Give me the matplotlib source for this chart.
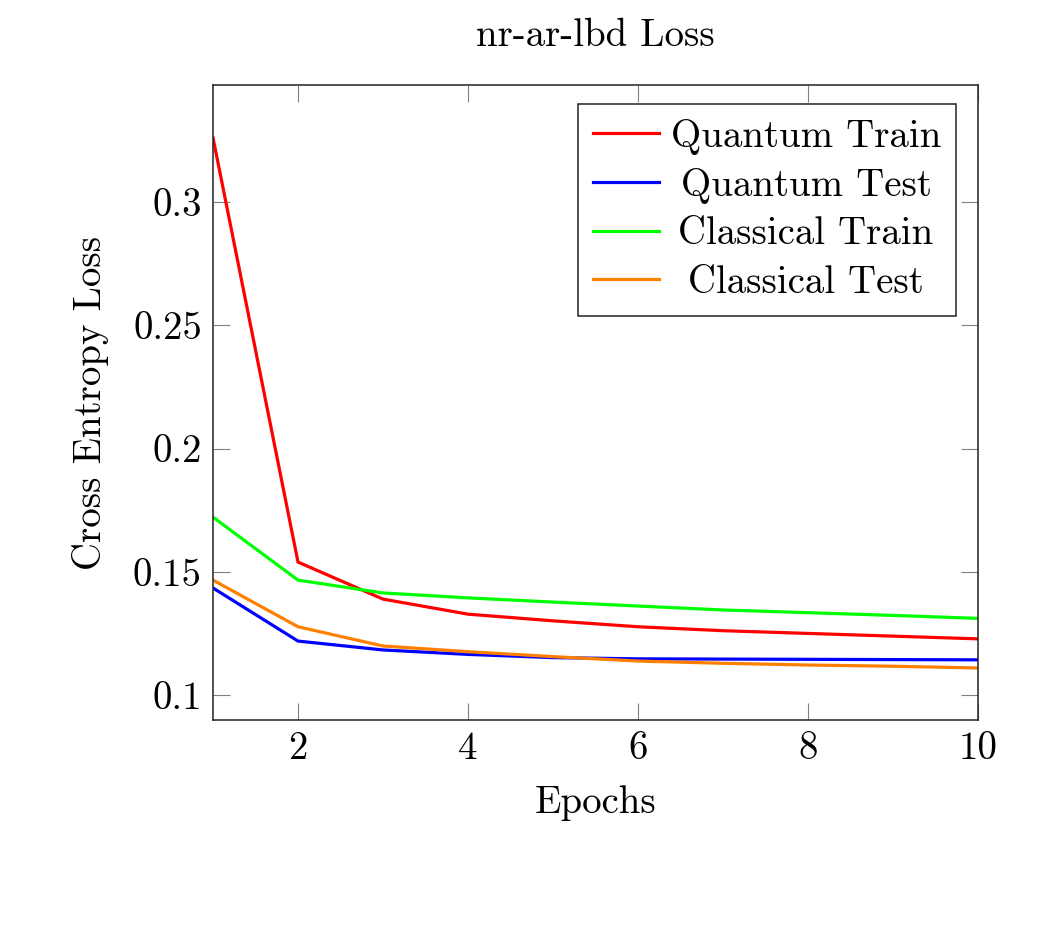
import matplotlib
matplotlib.use("Agg")
import matplotlib.pyplot as plt
from matplotlib.ticker import FixedLocator, FixedFormatter

epochs = [1, 2, 3, 4, 5, 6, 7, 8, 9, 10]
quantum_train = [0.3259, 0.1540, 0.1390, 0.1329, 0.1302, 0.1278, 0.1262, 0.1251, 0.1240, 0.1229]
quantum_test = [0.1435, 0.1220, 0.1184, 0.1166, 0.1153, 0.1148, 0.1147, 0.1146, 0.1145, 0.1144]
classical_train = [0.1722, 0.1467, 0.1415, 0.1395, 0.1378, 0.1362, 0.1346, 0.1335, 0.1324, 0.1312]
classical_test = [0.1467, 0.1278, 0.1200, 0.1177, 0.1157, 0.1139, 0.1130, 0.1123, 0.1118, 0.1111]

series_labels = ["Quantum Train", "Quantum Test", "Classical Train", "Classical Test"]
series_colors = ["#ff0000", "#0000ff", "#00ff00", "#ff8000"]

xtick_vals = [2, 4, 6, 8, 10]
xtick_labels = ["2", "4", "6", "8", "10"]
ytick_vals = [0.1, 0.15, 0.2, 0.25, 0.3]
ytick_labels = ["0.1", "0.15", "0.2", "0.25", "0.3"]

title = "nr-ar-lbd Loss"
xlabel = "Epochs"
ylabel = "Cross Entropy Loss"

plt.rcParams['font.family'] = ['cmr10', 'DejaVu Serif']
plt.rcParams['axes.formatter.use_mathtext'] = True

FS = 28

fig = plt.figure(figsize=(10.63, 9.32), dpi=100)
ax = fig.add_axes([213/1063, 1 - 720.3/932, (978-213)/1063, (720.3-85)/932])

for ys, lab, col in zip([quantum_train, quantum_test, classical_train, classical_test], series_labels, series_colors):
    ax.plot(epochs, ys, color=col, lw=2.3, label=lab, solid_joinstyle='miter')

ax.set_xlim(1, 10)
ax.set_ylim(0.0899, 0.3473)

ax.xaxis.set_major_locator(FixedLocator(xtick_vals))
ax.xaxis.set_major_formatter(FixedFormatter(xtick_labels))
ax.yaxis.set_major_locator(FixedLocator(ytick_vals))
ax.yaxis.set_major_formatter(FixedFormatter(ytick_labels))

ax.tick_params(direction='in', length=12, width=0.8, color='#808080',
               top=True, right=True, labelsize=FS, pad=8)
for sp in ax.spines.values():
    sp.set_linewidth(1.1)
    sp.set_color('#222222')

ax.set_title(title, fontsize=FS, pad=28)
ax.set_xlabel(xlabel, fontsize=FS, labelpad=13)
ax.set_ylabel(ylabel, fontsize=FS, labelpad=17)

leg = ax.legend(loc='upper right', bbox_to_anchor=(0.9712, 0.9701),
                fontsize=FS, frameon=True, fancybox=False,
                framealpha=1, edgecolor='#222222', handlelength=1.7,
                handletextpad=0.3, labelspacing=0.33, borderpad=0.38,
                borderaxespad=0.0)
leg.get_frame().set_linewidth(1.1)

# centre the legend entries' text within the text column (like pgfplots)
fig.canvas.draw()
renderer = fig.canvas.get_renderer()
widths = [t.get_window_extent(renderer).width for t in leg.get_texts()]
maxw = max(widths)
for t, w in zip(leg.get_texts(), widths):
    t.set_x((maxw - w) / 2.0)

fig.savefig("out.png", dpi=100)
